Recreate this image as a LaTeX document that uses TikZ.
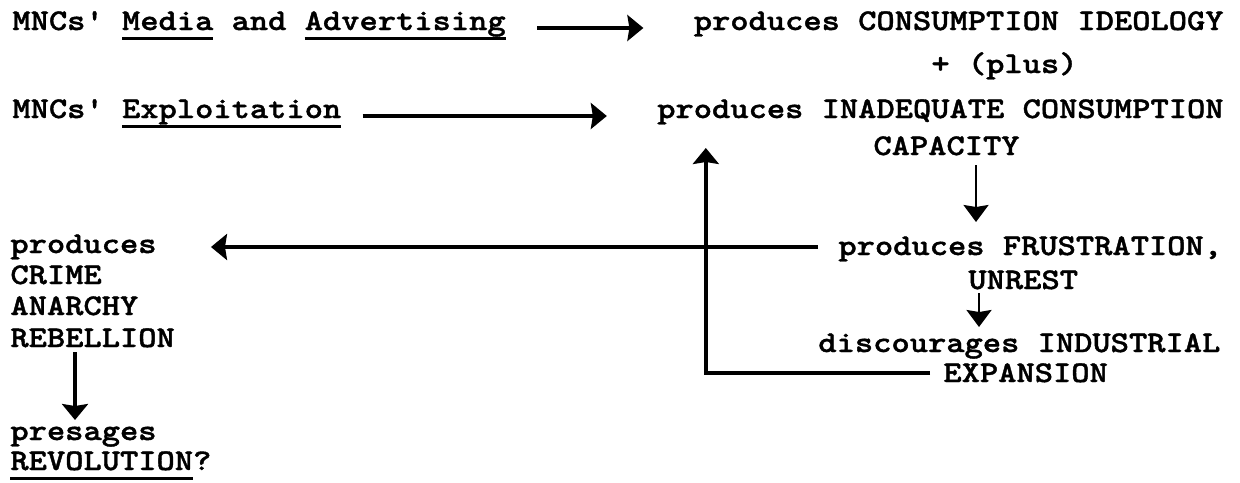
\documentclass[tikz,border=0pt]{standalone}
\usepackage{fontspec}
\newfontfamily\typewriter{lmmonolt10-bold}[Extension=.otf, FakeStretch=1.16, FakeBold=1.3]
\usepackage{tikz}
\usetikzlibrary{arrows.meta}

\tikzset{
    typed/.style={font=\typewriter\fontsize{15pt}{18pt}\selectfont, inner sep=0pt, anchor=base west},
    flow/.style={-{Stealth[length=8pt, width=13pt, inset=1pt]}, line width=1.7pt},
    thinflow/.style={-{Stealth[length=8.5pt, width=12.5pt, inset=1pt]}, line width=1.1pt}
}
\newcommand{\typeul}[1]{\setbox0\hbox{#1}\rlap{\rule[-5pt]{\wd0}{1.4pt}}\box0\relax}

\begin{document}
\begin{tikzpicture}[x=0.5pt, y=-0.5pt]
            \useasboundingbox (0, 0) rectangle (1240, 482);

            \node [typed] (adv) at (12, 30) {MNCs' \typeul{Media} and \typeul{Advertising}};
            \node [typed, anchor=base east] (ideo) at (1224, 30) {produces CONSUMPTION IDEOLOGY};
            \node [typed] (plus) at (931, 73) {+ (plus)};
            \node [typed] (expl) at (12, 118) {MNCs' \typeul{Exploitation}};
            \node [typed, anchor=base east] (inad) at (1224, 118) {produces INADEQUATE CONSUMPTION};
            \node [typed] (cap) at (873, 155) {CAPACITY};

            \node [typed] (frus) at (838, 255) {produces FRUSTRATION,};
            \node [typed] (unrest) at (968, 289) {UNREST};
            \node [typed] (disc) at (818, 352) {discourages INDUSTRIAL};
            \node [typed] (expan) at (943, 382) {EXPANSION};

            \node [typed] (prod) at (10, 253) {produces};
            \node [typed] (crime) at (10, 284) {CRIME};
            \node [typed] (anarchy) at (10, 315) {ANARCHY};
            \node [typed] (rebel) at (10, 347) {REBELLION};
            \node [typed] (pres) at (10, 440) {presages};
            \node [typed] (revo) at (10, 470) {\typeul{REVOLUTION}?};

            \draw [flow] ([shift={(31,-2)}]adv.base east) -- ([shift={(-50,-2)}]ideo.base west);
            \draw [flow] ([shift={(21,-2)}]expl.base east) -- ([shift={(-50,-2)}]inad.base west);

            \draw [thinflow] ([shift={(103,10)}]cap.base west) -- ([shift={(138,-33)}]frus.base west);
            \draw [flow] ([shift={(-20,-8)}]frus.base west) -- ([shift={(54,-6)}]prod.base east);
            \draw [thinflow] ([shift={(11,4)}]unrest.base west) -- ([shift={(161,-25)}]disc.base west);
            \draw [flow] ([shift={(-13,-9)}]expan.base west) -| ([shift={(49,30)}]inad.base west);

            \draw [flow] ([shift={(65,5)}]rebel.base west) -- ([shift={(65,-20)}]pres.base west);
        \end{tikzpicture}
\end{document}
